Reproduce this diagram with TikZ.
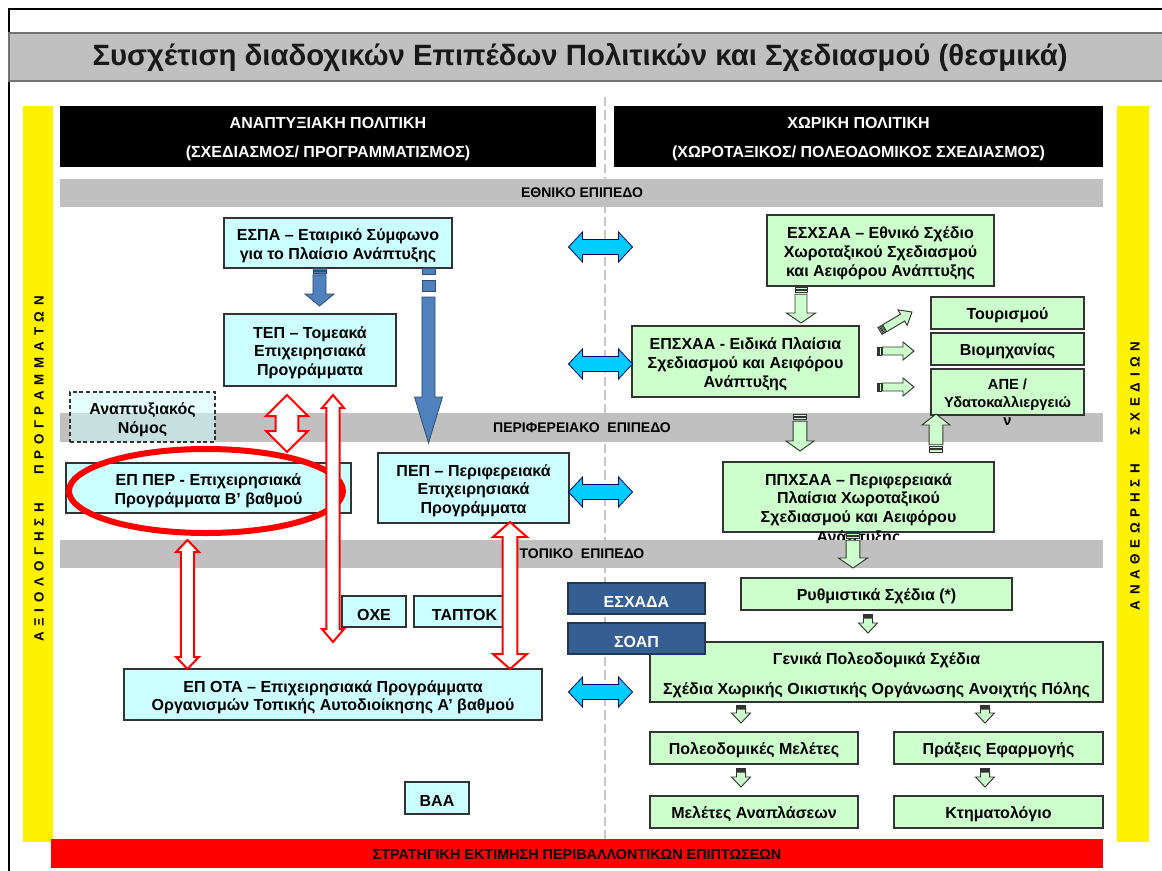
\documentclass[tikz,border=0pt]{standalone}
\usepackage{fontspec}
\setmainfont{Liberation Sans}
\usetikzlibrary{calc,fit}
\definecolor{cyanbox}{HTML}{CCFFFF}
\definecolor{greenbox}{HTML}{CCFFCC}
\definecolor{bandgray}{HTML}{C0C0C0}
\definecolor{darkblue}{HTML}{355E92}
\definecolor{bluearrow}{HTML}{4F81BD}
\definecolor{cyanarrow}{HTML}{00CCFF}
% segment of a block shape between distances #4 and #5 along #2->#3, half width #6
\newcommand\mkseg[6]{%
  \coordinate (sgA) at ($#2!#4!#3$);
  \coordinate (sgB) at ($#2!#5!#3$);
  \draw[#1] ($(sgA)!#6!90:#3$) -- ($(sgB)!#6!90:#3$) -- ($(sgB)!#6!-90:#3$) -- ($(sgA)!#6!-90:#3$) -- cycle;}
% block arrow: style, tail, tip, shaft half width, head half width, head length
\newcommand\mkarrow[6]{%
  \coordinate (baA) at #2; \coordinate (baB) at #3;
  \coordinate (baH) at ($(baB)!#6!(baA)$);
  \draw[#1] ($(baA)!#4!90:(baB)$) -- ($(baH)!#4!90:(baB)$) -- ($(baH)!#5!90:(baB)$) -- (baB)
    -- ($(baH)!#5!-90:(baB)$) -- ($(baH)!#4!-90:(baB)$) -- ($(baA)!#4!-90:(baB)$) -- cycle;}
% striped block arrow: extra #7 = stripe unit
\newcommand\mksarrow[7]{%
  \coordinate (saA) at #2; \coordinate (saB) at #3;
  \mkseg{#1}{(saA)}{(saB)}{0pt}{#7}{#4}
  \mkseg{#1}{(saA)}{(saB)}{1.7*#7}{2.7*#7}{#4}
  \mkarrow{#1}{($(saA)!3.4*#7!(saB)$)}{(saB)}{#4}{#5}{#6}}
% double block arrow
\newcommand\mkdarrow[6]{%
  \coordinate (daA) at #2; \coordinate (daB) at #3;
  \coordinate (daH1) at ($(daA)!#6!(daB)$); \coordinate (daH2) at ($(daB)!#6!(daA)$);
  \draw[#1] (daA) -- ($(daH1)!#5!90:(daB)$) -- ($(daH1)!#4!90:(daB)$) -- ($(daH2)!#4!-90:(daA)$)
    -- ($(daH2)!#5!-90:(daA)$) -- (daB) -- ($(daH2)!#5!90:(daA)$) -- ($(daH2)!#4!90:(daA)$)
    -- ($(daH1)!#4!-90:(daB)$) -- ($(daH1)!#5!-90:(daB)$) -- cycle;}
% box from corners with centred text: [text opts]{box style}{name}{corners}{text}
\newcommand\bx[5][]{%
  \node[#2, fit={#4}] (#3) {};
  \node[btext, #1] at (#3.center) {#5};}
% letter-spaced text, | gives a wide gap
\def\spacedtxt#1{\spacedi#1\relax}
\def\spacedi#1{\ifx\relax#1\else\ifx|#1\kern17pt\else#1\kern4.3pt\fi\expandafter\spacedi\fi}
\tikzset{
  box/.style={draw=black!80, line width=0.8pt, inner sep=0pt},
  btext/.style={inner sep=0pt, align=center, yshift=-2pt, font=\fontsize{12}{14}\selectfont\bfseries},
  capsonly/.style={yshift=-0.6pt},
  cbox/.style={box, fill=cyanbox},
  gbox/.style={box, fill=greenbox},
  bbox/.style={box, fill=darkblue, draw=darkblue!60!black},
  band/.style={fill=bandgray, draw=none, inner sep=0pt},
  bandtext/.style={font=\fontsize{10.5}{12}\selectfont\bfseries},
  hdr/.style={fill=black, inner sep=0pt},
  sidetext/.style={rotate=90, font=\fontsize{10}{11}\selectfont\bfseries},
  redarr/.style={draw=red, fill=white, line width=1.5pt},
  bluearr/.style={draw=bluearrow!60!black, fill=bluearrow, line width=0.6pt},
  cyanarr/.style={draw=black!60!blue, fill=cyanarrow, line width=0.6pt},
  greenarr/.style={draw=black!80, fill=greenbox, line width=0.7pt},
}
\begin{document}
\begin{tikzpicture}[x=0.75pt,y=-0.75pt]
\useasboundingbox (0,0) rectangle (1162,870);
\fill[white] (0,0) rectangle (1162,870);
% frame and title
\draw[line width=1.2pt] (9,872) -- (9,9) -- (1164,9);
\node[fill=bandgray, draw=black!55, line width=1.2pt, inner sep=0pt, fit={(9,33)(1166,81)}] (titleband) {};
\node[font=\fontsize{22}{24}\selectfont\bfseries, text=black!90] (title) at (580,58)
  {Συσχέτιση διαδοχικών Επιπέδων Πολιτικών και Σχεδιασμού (θεσμικά)};
% side bars
\node[fill=yellow, inner sep=0pt, fit={(23,106)(53,842)}] (ybarl) {};
\node[fill=yellow, inner sep=0pt, fit={(1117,106)(1149,842)}] (ybarr) {};
\node[sidetext] (evaltxt) at (39,466) {\spacedtxt{ΑΞΙΟΛΟΓΗΣΗ|ΠΡΟΓΡΑΜΜΑΤΩΝ}};
\node[sidetext] (revtxt) at (1135,473) {\spacedtxt{ΑΝΑΘΕΩΡΗΣΗ|ΣΧΕΔΙΩΝ}};
% headers
\bx[text=white]{hdr}{hdrl}{(60,106)(596,167)}{ΑΝΑΠΤΥΞΙΑΚΗ ΠΟΛΙΤΙΚΗ\\[7.75pt](ΣΧΕΔΙΑΣΜΟΣ/ ΠΡΟΓΡΑΜΜΑΤΙΣΜΟΣ)}
\bx[text=white]{hdr}{hdrr}{(614,106)(1103,167)}{ΧΩΡΙΚΗ ΠΟΛΙΤΙΚΗ\\[7.75pt](ΧΩΡΟΤΑΞΙΚΟΣ/ ΠΟΛΕΟΔΟΜΙΚΟΣ ΣΧΕΔΙΑΣΜΟΣ)}
% dashed divider
\coordinate (divtop) at (605,97);
\coordinate (divbot) at (605,852);
\draw[black!22, line width=1pt, dash pattern=on 7pt off 3pt] (divtop) -- (divbot);
% level bands
\node[band, fit={(60,179)(1103,207)}] (bnat) {};
\node[bandtext] (bnattxt) at (582,193) {ΕΘΝΙΚΟ ΕΠΙΠΕΔΟ};
\node[band, fit={(60,413)(1103,442)}] (breg) {};
\node[bandtext] (bregtxt) at (582,427.5) {ΠΕΡΙΦΕΡΕΙΑΚΟ\ \ ΕΠΙΠΕΔΟ};
\node[fill=red, inner sep=0pt, fit={(51,839)(1103,868)}] (redbar) {};
\node[font=\fontsize{10.8}{12}\selectfont\bfseries] (redtxt) at (577,854.5) {ΣΤΡΑΤΗΓΙΚΗ ΕΚΤΙΜΗΣΗ ΠΕΡΙΒΑΛΛΟΝΤΙΚΩΝ ΕΠΙΠΤΩΣΕΩΝ};
% left column nodes
\bx{cbox}{espa}{(224,218)(452,268)}{ΕΣΠΑ – Εταιρικό Σύμφωνο\\για το Πλαίσιο Ανάπτυξης}
\bx{cbox}{tep}{(224,314)(396,386)}{ΤΕΠ – Τομεακά\\Επιχειρησιακά\\Προγράμματα}
\bx{box, fill=cyanbox, fill opacity=0.5, dash pattern=on 3pt off 2pt}{anom}{(70,392)(215,442)}{Αναπτυξιακός\\Νόμος}
\bx{cbox}{epper}{(66,463)(351,513)}{ΕΠ ΠΕΡ - Επιχειρησιακά\\Προγράμματα Β’ βαθμού}
\bx{cbox}{pep}{(378,453)(569,523)}{ΠΕΠ – Περιφερειακά\\Επιχειρησιακά\\Προγράμματα}
\bx[capsonly]{cbox}{oxe}{(342,596)(406,627)}{ΟΧΕ}
\bx[capsonly]{cbox}{taptok}{(414,596)(515,627)}{ΤΑΠΤΟΚ}
\bx{cbox}{epota}{(124,669)(542,720)}{ΕΠ ΟΤΑ – Επιχειρησιακά Προγράμματα\\Οργανισμών Τοπικής Αυτοδιοίκησης Α’ βαθμού}
\bx[capsonly]{cbox}{vaa}{(405,782)(469,814)}{ΒΑΑ}
% right column nodes
\bx{gbox}{esxsaa}{(767,215)(994,286)}{ΕΣΧΣΑΑ – Εθνικό Σχέδιο\\Χωροταξικού Σχεδιασμού\\και Αειφόρου Ανάπτυξης}
\bx{gbox}{epsxaa}{(632,326)(859,397)}{ΕΠΣΧΑΑ - Ειδικά Πλαίσια\\Σχεδιασμού και Αειφόρου\\Ανάπτυξης}
\bx[yshift=0.5pt]{gbox}{tour}{(931,297)(1084,329)}{Τουρισμού}
\bx[yshift=0.5pt]{gbox}{viom}{(931,333)(1084,365)}{Βιομηχανίας}
\node[gbox, fit={(931,369)(1084,415)}] (ape) {};
\node[btext, font=\fontsize{11}{13.5}\selectfont\bfseries] (apetxt) at (1007.5,400) {ΑΠΕ /\\Υδατοκαλλιεργειώ\\ν};
\bx{gbox}{ppxsaa}{(723,462)(994,532)}{ΠΠΧΣΑΑ – Περιφερειακά\\Πλαίσια Χωροταξικού\\Σχεδιασμού και Αειφόρου}
% overflowing last line of PPXSAA, mostly hidden by the local band
\node[btext] (ppxlast) at (858.5,536) {Ανάπτυξης};
\node[band, fit={(60,540)(1103,568)}] (bloc) {};
\node[bandtext] (bloctxt) at (582,554) {ΤΟΠΙΚΟ\ \ ΕΠΙΠΕΔΟ};
\bx[yshift=0.5pt]{gbox}{rythm}{(741,578)(1012,610)}{Ρυθμιστικά Σχέδια (*)}
\bx[text=white, capsonly]{bbox}{esxada}{(568,583)(705,614)}{ΕΣΧΑΔΑ}
\bx{gbox}{genika}{(650,642)(1103,702)}{Γενικά Πολεοδομικά Σχέδια\\[8.5pt]Σχέδια Χωρικής Οικιστικής Οργάνωσης Ανοιχτής Πόλης}
\bx[text=white, capsonly]{bbox}{soap}{(568,623)(705,654)}{ΣΟΑΠ}
\bx[yshift=0.5pt]{gbox}{poleod}{(650,732)(858,764)}{Πολεοδομικές Μελέτες}
\bx[yshift=0.5pt]{gbox}{praxeis}{(894,732)(1103,764)}{Πράξεις Εφαρμογής}
\bx[yshift=0.5pt]{gbox}{meletes}{(650,796)(858,828)}{Μελέτες Αναπλάσεων}
\bx[yshift=0.5pt]{gbox}{ktima}{(894,796)(1103,828)}{Κτηματολόγιο}
% highlight ellipse
\draw[red, line width=4.5pt] (206,491) ellipse [x radius=137, y radius=42];
% cyan links between the two policies
\foreach \yy in {247,364,492,692}{
  \mkdarrow{cyanarr}{(568.5,\yy)}{(632.5,\yy)}{5.6pt}{11.25pt}{10.5pt}}
% blue arrows from ESPA
\mksarrow{bluearr}{(319.5,0 |- espa.south)}{(319.5,306)}{4.9pt}{10.9pt}{9pt}{1.4pt}
\mkseg{bluearr}{(428.5,0 |- espa.south)}{(428.5,443)}{0pt}{4.5pt}{4.9pt}
\mkseg{bluearr}{(428.5,0 |- espa.south)}{(428.5,443)}{9pt}{17.25pt}{4.9pt}
\mkarrow{bluearr}{(428.5,297)}{(428.5,443)}{4.9pt}{10.5pt}{34.5pt}
% red relations
\mkdarrow{redarr}{(287,395)}{(287,452)}{8.6pt}{15.75pt}{15.75pt}
\mkdarrow{redarr}{(333,395)}{(333,642)}{4.9pt}{8.25pt}{9.75pt}
\mkdarrow{redarr}{(187.5,540)}{(187.5,669)}{4.9pt}{8.6pt}{9pt}
\mkdarrow{redarr}{(510,522)}{(510,669)}{5.6pt}{12.75pt}{11.25pt}
% green arrows, spatial planning chain
\mksarrow{greenarr}{(801,287)}{(801,323)}{4.5pt}{10.9pt}{7.5pt}{1.6pt}
\mksarrow{greenarr}{(800,414)}{(800,451)}{5.2pt}{10.5pt}{7.5pt}{1.6pt}
\mksarrow{greenarr}{(853,533)}{(853,568)}{5.2pt}{10.9pt}{7.5pt}{1.6pt}
\mksarrow{greenarr}{(936,452)}{(936,414)}{5.2pt}{10.5pt}{8.25pt}{1.6pt}
\mksarrow{greenarr}{(880,331)}{(912,312)}{3pt}{6.75pt}{8.25pt}{1.2pt}
\mksarrow{greenarr}{(877,351)}{(914,351)}{3pt}{6.75pt}{8.25pt}{1.2pt}
\mksarrow{greenarr}{(877,387)}{(914,387)}{3pt}{6.75pt}{8.25pt}{1.2pt}
\mksarrow{greenarr}{(868,614)}{(868,633)}{3.4pt}{7.1pt}{7.5pt}{0.9pt}
\mksarrow{greenarr}{(741,705)}{(741,723)}{3.4pt}{7.1pt}{7.5pt}{0.9pt}
\mksarrow{greenarr}{(985,705)}{(985,723)}{3.4pt}{7.1pt}{7.5pt}{0.9pt}
\mksarrow{greenarr}{(741,768)}{(741,787)}{3.4pt}{7.1pt}{7.5pt}{0.9pt}
\mksarrow{greenarr}{(985,768)}{(985,787)}{3.4pt}{7.1pt}{7.5pt}{0.9pt}
\end{tikzpicture}
\end{document}
